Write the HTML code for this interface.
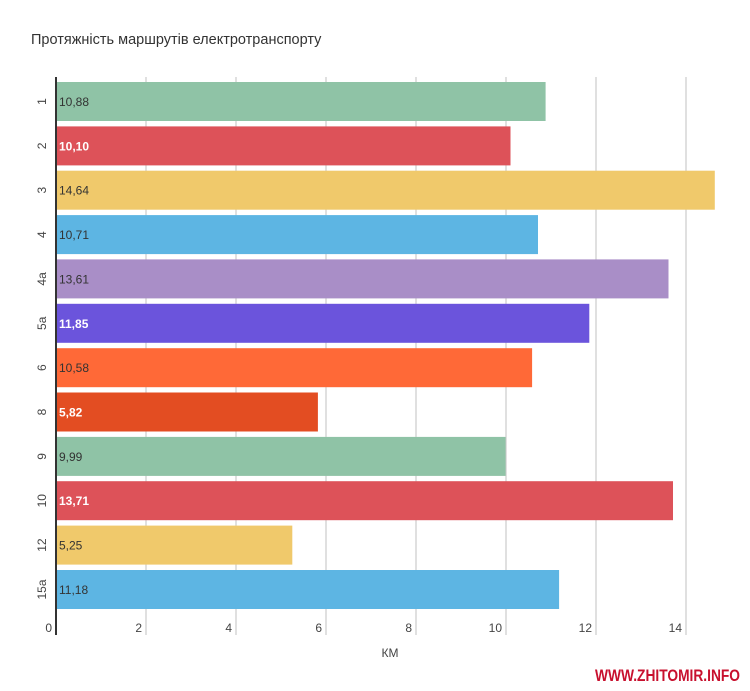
<!DOCTYPE html>
<html><head><meta charset="utf-8"><style>
html,body{margin:0;padding:0;background:#fff;}
svg{display:block;font-family:"Liberation Sans",sans-serif;}
</style></head><body>
<svg width="750" height="691" viewBox="0 0 750 691" xmlns="http://www.w3.org/2000/svg">
<text x="31" y="44" font-size="14.5" fill="#333">Протяжність маршрутів електротранспорту</text>
<g stroke="#cccccc" stroke-width="1.2">
<line x1="146" y1="77" x2="146" y2="635"/><line x1="236" y1="77" x2="236" y2="635"/>
<line x1="326" y1="77" x2="326" y2="635"/><line x1="416" y1="77" x2="416" y2="635"/>
<line x1="506" y1="77" x2="506" y2="635"/><line x1="596" y1="77" x2="596" y2="635"/>
<line x1="686" y1="77" x2="686" y2="635"/>
</g>
<g>
<rect x="56" y="82" width="489.6" height="39" fill="#8FC3A6"/>
<rect x="56" y="126.4" width="454.5" height="39" fill="#DD5259"/>
<rect x="56" y="170.7" width="658.8" height="39" fill="#F0C96B"/>
<rect x="56" y="215.1" width="482" height="39" fill="#5DB5E3"/>
<rect x="56" y="259.4" width="612.5" height="39" fill="#A98EC7"/>
<rect x="56" y="303.8" width="533.3" height="39" fill="#6B54DC"/>
<rect x="56" y="348.2" width="476.1" height="39" fill="#FF6937"/>
<rect x="56" y="392.5" width="261.9" height="39" fill="#E34D22"/>
<rect x="56" y="436.9" width="449.6" height="39" fill="#8FC3A6"/>
<rect x="56" y="481.2" width="617" height="39" fill="#DD5259"/>
<rect x="56" y="525.6" width="236.3" height="39" fill="#F0C96B"/>
<rect x="56" y="570" width="503.1" height="39" fill="#5DB5E3"/>
</g>
<line x1="56" y1="77" x2="56" y2="635" stroke="#333" stroke-width="2"/>
<g font-size="12" fill="#333">
<text x="59" y="106">10,88</text>
<text x="59" y="150.4" fill="#fff" font-weight="bold">10,10</text>
<text x="59" y="194.7">14,64</text>
<text x="59" y="239.1">10,71</text>
<text x="59" y="283.4">13,61</text>
<text x="59" y="327.8" fill="#fff" font-weight="bold">11,85</text>
<text x="59" y="372.2">10,58</text>
<text x="59" y="416.5" fill="#fff" font-weight="bold">5,82</text>
<text x="59" y="460.9">9,99</text>
<text x="59" y="505.2" fill="#fff" font-weight="bold">13,71</text>
<text x="59" y="549.6">5,25</text>
<text x="59" y="594">11,18</text>
</g>
<g font-size="12" fill="#444" text-anchor="middle">
<text transform="translate(46,101.5) rotate(-90)">1</text>
<text transform="translate(46,145.9) rotate(-90)">2</text>
<text transform="translate(46,190.2) rotate(-90)">3</text>
<text transform="translate(46,234.6) rotate(-90)">4</text>
<text transform="translate(46,278.9) rotate(-90)">4а</text>
<text transform="translate(46,323.3) rotate(-90)">5а</text>
<text transform="translate(46,367.7) rotate(-90)">6</text>
<text transform="translate(46,412) rotate(-90)">8</text>
<text transform="translate(46,456.4) rotate(-90)">9</text>
<text transform="translate(46,500.7) rotate(-90)">10</text>
<text transform="translate(46,545.1) rotate(-90)">12</text>
<text transform="translate(46,589.5) rotate(-90)">15а</text>
</g>
<g font-size="12" fill="#444" text-anchor="end">
<text x="52" y="632">0</text><text x="142" y="632">2</text><text x="232" y="632">4</text>
<text x="322" y="632">6</text><text x="412" y="632">8</text><text x="502" y="632">10</text>
<text x="592" y="632">12</text><text x="682" y="632">14</text>
</g>
<text x="390" y="657" font-size="12" fill="#444" text-anchor="middle">КМ</text>
<text x="740" y="681" font-size="17" font-weight="bold" fill="#c8102e" text-anchor="end" textLength="145" lengthAdjust="spacingAndGlyphs">WWW.ZHITOMIR.INFO</text>
</svg>
</body></html>
